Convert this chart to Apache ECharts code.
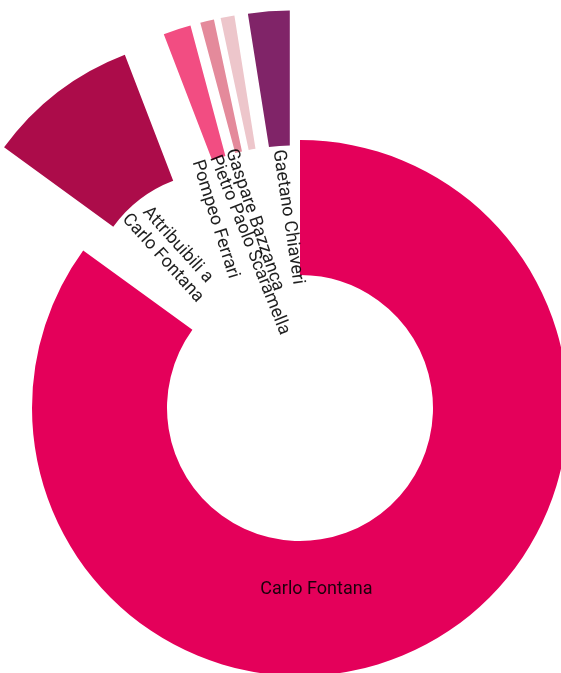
<!DOCTYPE html>
<html>
<head>
<meta charset="utf-8">
<script src="https://cdn.jsdelivr.net/npm/echarts@6/dist/echarts.min.js"></script>
<style>
html,body{margin:0;padding:0;background:#fff;}
#chart{width:561px;height:673px;}
</style>
</head>
<body>
<div id="chart"></div>
<script>
const categories = ['Carlo Fontana', 'Attribuibili a\nCarlo Fontana', 'Pompeo Ferrari', 'Pietro Paolo Scaramella', 'Gaspare Bazzanca', 'Gaetano Chiaveri'];
const values = [102, 11, 2, 1, 1, 3];
const colors = ['#E4005A', '#AC0C4A', '#F24D82', '#E48A9B', '#EDC6CB', '#802468'];
const pulled = [false, true, true, true, true, true];

// label placement tweaks: screen-space nudge from the default inside position, rotation in degrees
const labelNudge = [
  {dx: -76, dy: 0, rotate: 0},
  {dx: -6, dy: 5, rotate: -48},
  {dx: -22, dy: 5, rotate: -72.6},
  {dx: -3, dy: 35, rotate: -68.4},
  {dx: -8.5, dy: 12, rotate: -71},
  {dx: 4, dy: 12, rotate: -81.5}
];

const chart = echarts.init(document.getElementById('chart'), null, {renderer: 'canvas'});

const sliceData = categories.map((c, i) => ({
  name: c, value: values[i], selected: pulled[i],
  itemStyle: {color: colors[i]}
}));
const labelData = categories.map((c, i) => ({name: c, value: values[i]}));

const center = [300, 408];
const radius = [133, 268];

chart.setOption({
  animation: false,
  series: [
    {
      type: 'pie',
      center: center,
      radius: radius,
      startAngle: 90,
      clockwise: true,
      selectedMode: 'multiple',
      selectedOffset: 130,
      avoidLabelOverlap: false,
      label: {show: false},
      labelLine: {show: false},
      emphasis: {disabled: true},
      itemStyle: {borderWidth: 0},
      data: sliceData
    },
    {
      type: 'pie',
      center: center,
      radius: radius,
      startAngle: 90,
      clockwise: true,
      silent: true,
      avoidLabelOverlap: false,
      itemStyle: {color: 'rgba(0,0,0,0)'},
      emphasis: {disabled: true},
      label: {
        show: true,
        position: 'inside',
        rotate: 'radial',
        fontFamily: 'Roboto',
        fontSize: 18,
        color: 'rgba(0,0,0,0.88)',
        lineHeight: 20
      },
      labelLine: {show: false},
      labelLayout: function (p) {
        const n = labelNudge[p.dataIndex];
        const r = n.rotate * Math.PI / 180;
        const c = Math.cos(r), s = Math.sin(r);
        // offsets are applied in the label's rotated frame; convert from screen space
        return {dx: n.dx * c - n.dy * s, dy: n.dx * s + n.dy * c, rotate: n.rotate};
      },
      data: labelData
    }
  ]
});
</script>
</body>
</html>
